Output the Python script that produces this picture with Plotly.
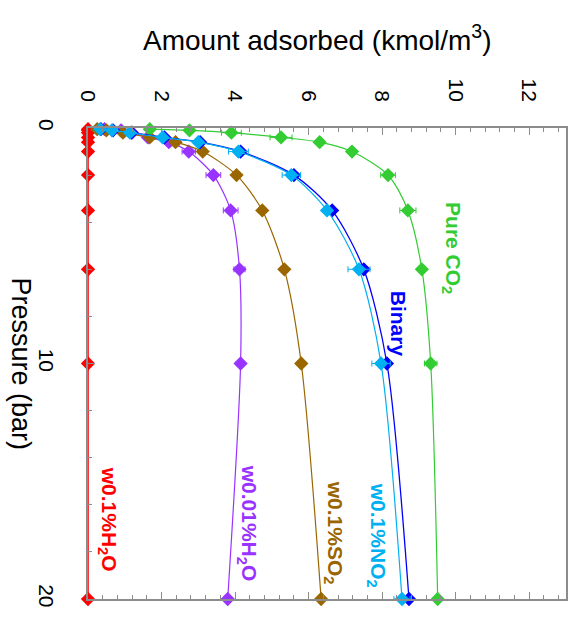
import plotly.graph_objects as go

# ---- data ----
pressure = [0.05, 0.1, 0.2, 0.4, 0.6, 1, 2, 3.5, 6, 10, 20]

pure_co2 = [1.68, 2.76, 3.90, 5.25, 6.30, 7.18, 8.16, 8.70, 9.08, 9.32, 9.51]
pure_co2_err = [0, 0, 0.27, 0.3, 0, 0, 0.2, 0.22, 0, 0.17, 0]

binary = [0.35, 0.68, 1.18, 2.08, 3.05, 4.15, 5.60, 6.64, 7.50, 8.13, 8.73]

no2 = [0.33, 0.65, 1.14, 2.03, 3.00, 4.09, 5.53, 6.50, 7.37, 7.97, 8.54]
no2_err = [0, 0, 0, 0, 0, 0.27, 0.25, 0, 0.3, 0.25, 0.22]

so2 = [0.25, 0.50, 0.95, 1.68, 2.38, 3.12, 4.04, 4.74, 5.34, 5.80, 6.34]

h2o_001 = [0.45, 0.90, 1.20, 1.63, 2.20, 2.74, 3.41, 3.88, 4.12, 4.15, 3.80]
h2o_001_err = [0, 0, 0, 0, 0, 0.18, 0.2, 0.2, 0.15, 0, 0]

h2o_01 = [0.0, 0.0, 0.0, 0.0, 0.0, 0.0, 0.0, 0.0, 0.0, 0.0, 0.0]

x_ticks = [0, 2, 4, 6, 8, 10, 12]
y_ticks = [0, 10, 20]

# label texts and anchor points (amount, pressure)
labels = [
    ("Pure CO<sub>2</sub>", 9.9, 5.1, "#33CC33"),
    ("Binary", 8.45, 8.3, "#0000FF"),
    ("w0.1%NO<sub>2</sub>", 7.85, 17.3, "#00B0F0"),
    ("w0.1%SO<sub>2</sub>", 6.7, 17.2, "#996600"),
    ("w0.01%H<sub>2</sub>O", 4.35, 16.8, "#9933FF"),
    ("w0.1%H<sub>2</sub>O", 0.55, 16.6, "#FF0000"),
]

FONT = "Arial, Liberation Sans, sans-serif"

series = [
    (h2o_01, None, "#FF0000", 1.6),
    (h2o_001, h2o_001_err, "#9933FF", 1.2),
    (so2, None, "#996600", 1.2),
    (pure_co2, pure_co2_err, "#33CC33", 1.2),
    (binary, None, "#0000FF", 1.3),
    (no2, no2_err, "#00B0F0", 1.2),
]

fig = go.Figure()
for vals, err, color, lw in series:
    tr = dict(
        x=vals, y=pressure, mode="lines+markers",
        line=dict(color=color, width=lw, shape="spline", smoothing=0.8),
        marker=dict(symbol="diamond", size=11, color=color, line=dict(width=0)),
        cliponaxis=False, showlegend=False,
    )
    if err is not None:
        tr["error_x"] = dict(type="data", array=err, visible=True,
                             color=color, thickness=1, width=3)
    fig.add_trace(go.Scatter(**tr))

for text, ax, ay, color in labels:
    fig.add_annotation(x=ax, y=ay, xref="x", yref="y", text="<b>" + text + "</b>",
                       textangle=90, showarrow=False,
                       font=dict(family=FONT, size=21, color=color),
                       xanchor="center", yanchor="middle")

# axis titles
fig.add_annotation(x=0.48, y=1.0, xref="paper", yref="paper",
                   text="Amount adsorbed (kmol/m<sup>3</sup>)", showarrow=False,
                   font=dict(family=FONT, size=28, color="black"),
                   yshift=90, xanchor="center", yanchor="middle")
fig.add_annotation(x=0.0, y=0.5, xref="paper", yref="paper",
                   text="Pressure (bar)", textangle=90, showarrow=False,
                   font=dict(family=FONT, size=27, color="black"),
                   xshift=-67, xanchor="center", yanchor="middle")

AX = "#8c8c8c"
fig.update_xaxes(
    range=[0, 13], side="top", tickvals=x_ticks, tickangle=90,
    ticks="inside", ticklen=7, tickwidth=1.2, tickcolor=AX,
    minor=dict(dtick=0.4, ticks="inside", ticklen=4, tickcolor=AX, tickwidth=1),
    showline=True, linecolor=AX, linewidth=1.5, mirror="ticks",
    showgrid=False, zeroline=False,
    tickfont=dict(family=FONT, size=21, color="black"),
    ticklabelstandoff=17,
)
fig.update_yaxes(
    range=[20, 0], tickvals=y_ticks, tickangle=90,
    ticks="inside", ticklen=7, tickwidth=1.2, tickcolor=AX,
    minor=dict(dtick=2, ticks="inside", ticklen=4, tickcolor=AX, tickwidth=1),
    showline=True, linecolor=AX, linewidth=1.5, mirror=True,
    showgrid=False, zeroline=False,
    tickfont=dict(family=FONT, size=21, color="black"),
    ticklabelstandoff=22,
)
fig.update_layout(
    width=576, height=621,
    margin=dict(l=88, r=8, t=128, b=22),
    paper_bgcolor="white", plot_bgcolor="white",
    font=dict(family=FONT),
)
fig.write_html("out.html")
